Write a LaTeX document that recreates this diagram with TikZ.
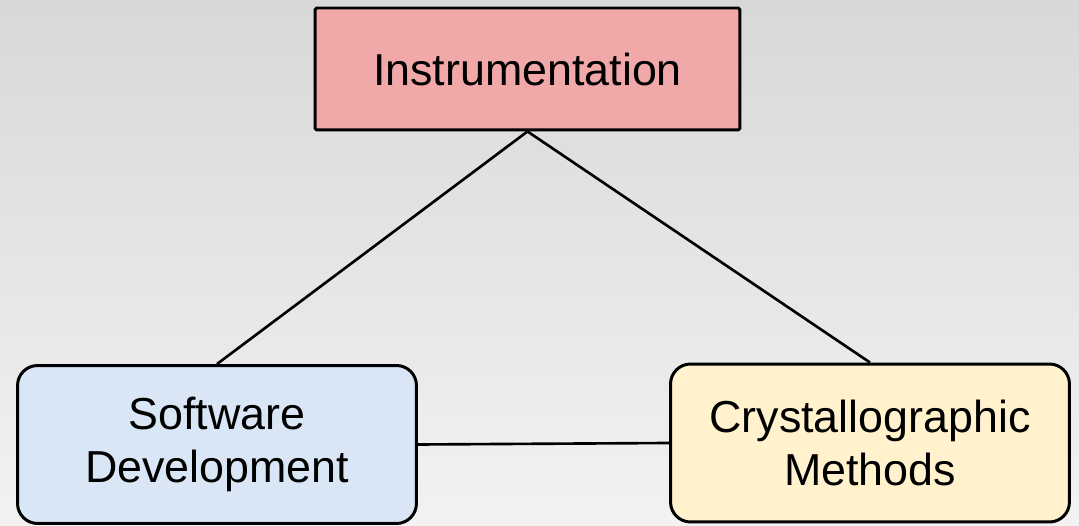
\documentclass[tikz,border=0pt]{standalone}
\usepackage{fontspec}
\setmainfont{Liberation Sans}
\usepackage{tikz}
\usetikzlibrary{positioning}
\definecolor{instfill}{HTML}{F0A8A8}
\definecolor{softfill}{HTML}{D9E6F5}
\definecolor{crysfill}{HTML}{FFF2CC}
\definecolor{bgtop}{HTML}{D8D8D8}
\definecolor{bgbottom}{HTML}{F2F2F2}

\begin{document}
\begin{tikzpicture}[
    x=0.02cm, y=-0.02cm,
    topic/.style={draw=black, line width=1.7pt, align=center, inner sep=0pt,
        font=\fontsize{25.5}{30.5}\selectfont},
    field/.style={topic, rounded corners=0.4cm, minimum width=7.98cm, minimum height=3.16cm},
    link/.style={line width=1.5pt}
]

% Background
\shade[top color=bgtop, bottom color=bgbottom] (0,0) rectangle (1079,526);
\useasboundingbox (0,0) rectangle (1079,526);

% Topics
\node[topic, fill=instfill, minimum width=8.5cm, minimum height=2.44cm,
    rounded corners=1pt] (inst) at (527.5, 69) {Instrumentation};
\node[field, fill=softfill] (soft) at (217, 444.5) {Software\\Development};
\node[field, fill=crysfill] (crys) at (870, 443) {Crystallographic\\Methods};

% Links
\draw[link] (inst.south) -- (soft.north);
\draw[link] (inst.south) -- (crys.north);
\draw[link] (soft.east) -- (crys.west);

\end{tikzpicture}
\end{document}
